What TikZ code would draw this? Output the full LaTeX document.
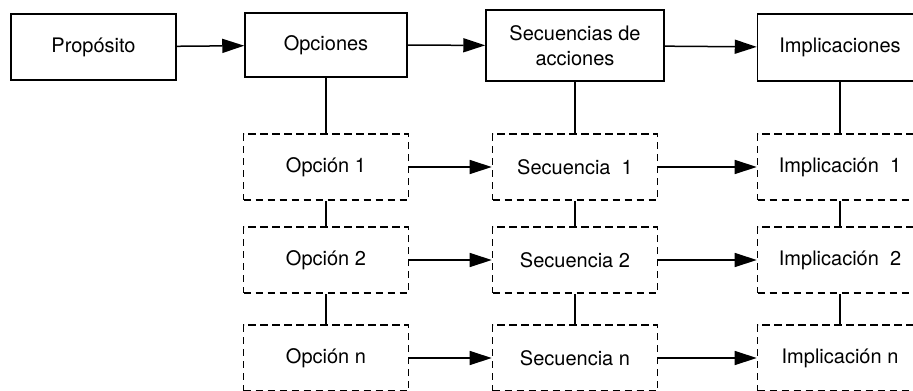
\documentclass[tikz,border=0pt]{standalone}
\usepackage{fontspec}
\setmainfont{TeX Gyre Heros}
\usetikzlibrary{arrows.meta}

\begin{document}
\begin{tikzpicture}[
    x=0.5pt, y=-0.5pt,
    every node/.style={draw, line width=0.75pt, minimum width=82.5pt, minimum height=33pt,
                       inner sep=2pt, align=center, font=\fontsize{10}{12.5}\selectfont},
    opcion/.style={line width=0.8pt, dash pattern=on 3.7pt off 2.3pt},
    linea/.style={-, solid, line width=0.75pt},
    entra/.style={{Triangle[length=11pt,width=7pt]}-, solid, line width=0.75pt},
]
  \useasboundingbox (0,0) rectangle (913,390);
  % fila de arriba
  \node []                (prop) at (93.5,47)  {Propósito};
  \node [minimum width=81pt, minimum height=32pt]
                          (opc)  at (326,45)   {Opciones}     edge [entra] (prop);
  \node [minimum width=89pt, minimum height=35.5pt]
                          (sec)  at (575,45.5) {Secuencias de\\acciones}
                                                              edge [entra] (opc);
  \node [minimum height=33.5pt]
                          (imp)  at (840,47.5) {Implicaciones} edge [entra] (sec);
  % filas de opciones
  \node [opcion]          (opc1) at (326,167)  {Opción 1}     edge [linea] (opc);
  \node [opcion]          (sec1) at (575,167)  {Secuencia\ \ 1}
                                                              edge [entra] (opc1)
                                                              edge [linea] (sec);
  \node [opcion]          (imp1) at (840,167)  {Implicación\ \ 1}
                                                              edge [entra] (sec1)
                                                              edge [linea] (imp);
  \node [opcion]          (opc2) at (326,260)  {Opción 2}     edge [linea] (opc1);
  \node [opcion]          (sec2) at (575,260)  {Secuencia 2}  edge [entra] (opc2)
                                                              edge [linea] (sec1);
  \node [opcion]          (imp2) at (840,260)  {Implicación\ \ 2}
                                                              edge [entra] (sec2)
                                                              edge [linea] (imp1);
  \node [opcion]          (opcn) at (326,358)  {Opción n}     edge [linea] (opc2);
  \node [opcion]          (secn) at (575,358)  {Secuencia n}  edge [entra] (opcn)
                                                              edge [linea] (sec2);
  \node [opcion]          (impn) at (840,358)  {Implicación n}
                                                              edge [entra] (secn)
                                                              edge [linea] (imp2);
\end{tikzpicture}
\end{document}
